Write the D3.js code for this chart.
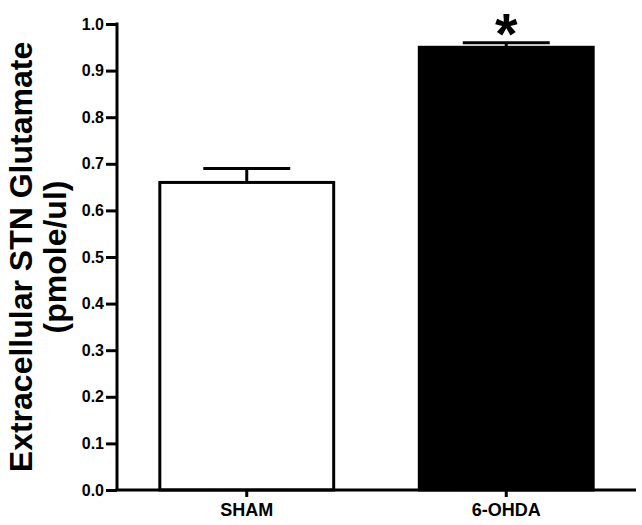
<!DOCTYPE html>
<html>
<head>
<meta charset="utf-8">
<script src="https://cdn.jsdelivr.net/npm/d3@7"></script>
<style>
  html, body { margin: 0; padding: 0; background: #fff; }
  svg { display: block; }
  text { font-family: "Liberation Sans", Arial, sans-serif; font-weight: bold; fill: #000; }
</style>
</head>
<body>
<script>
const categories = ["SHAM", "6-OHDA"];
const means = [0.66, 0.95];
const sems = [0.03, 0.01];
const barFills = ["#ffffff", "#000000"];
const significant = [false, true];
const yTicks = [0, 0.1, 0.2, 0.3, 0.4, 0.5, 0.6, 0.7, 0.8, 0.9, 1.0];
const yTitleLines = ["Extracellular STN Glutamate", "(pmole/ul)"];

(function () {
const W = 642, H = 525;
const pL = 117, pR = 636, pT = 24, pB = 490;

const svg = d3.select("body").append("svg").attr("width", W).attr("height", H);

const x = d3.scaleBand().domain(categories).range([pL, pR])
  .paddingInner(0.33).paddingOuter(0.165);
const y = d3.scaleLinear().domain([0, 1.0]).range([pB, pT]);

const data = categories.map((c, i) => ({ c, m: means[i], e: sems[i], fill: barFills[i], sig: significant[i] }));

// bars
svg.append("g").selectAll("rect").data(data).join("rect")
  .attr("x", d => x(d.c))
  .attr("y", d => y(d.m))
  .attr("width", x.bandwidth())
  .attr("height", d => y(0) - y(d.m))
  .attr("fill", d => d.fill)
  .attr("stroke", "#000")
  .attr("stroke-width", 3);

// error bars (upper only)
const capW = x.bandwidth() / 2;
const eg = svg.append("g").attr("stroke", "#000").attr("stroke-width", 3);
eg.selectAll("line.v").data(data).join("line").attr("class", "v")
  .attr("x1", d => x(d.c) + x.bandwidth() / 2)
  .attr("x2", d => x(d.c) + x.bandwidth() / 2)
  .attr("y1", d => y(d.m))
  .attr("y2", d => y(d.m + d.e));
eg.selectAll("line.h").data(data).join("line").attr("class", "h")
  .attr("x1", d => x(d.c) + x.bandwidth() / 2 - capW / 2)
  .attr("x2", d => x(d.c) + x.bandwidth() / 2 + capW / 2)
  .attr("y1", d => y(d.m + d.e))
  .attr("y2", d => y(d.m + d.e));

// significance asterisk
svg.append("g").selectAll("text").data(data.filter(d => d.sig)).join("text")
  .attr("x", d => x(d.c) + x.bandwidth() / 2)
  .attr("y", d => y(d.m + d.e) + 11)
  .attr("text-anchor", "middle")
  .style("font-size", "58px")
  .text("*");

// y axis
const yAxis = svg.append("g").attr("transform", `translate(${pL},0)`)
  .call(d3.axisLeft(y).tickValues(yTicks).tickFormat(d3.format(".1f")).tickSize(11).tickSizeOuter(0).tickPadding(2));
yAxis.selectAll("text").style("font-size", "16px");

// x axis
const xAxis = svg.append("g").attr("transform", `translate(0,${pB})`)
  .call(d3.axisBottom(x).tickSize(7).tickSizeOuter(0).tickPadding(6));
xAxis.selectAll("text").style("font-size", "18px");

[yAxis, xAxis].forEach(a => {
  a.select(".domain").attr("stroke", "#000").attr("stroke-width", 3);
  a.selectAll(".tick line").attr("stroke", "#000").attr("stroke-width", 3);
});
xAxis.select(".domain").attr("d", `M${pL - 1.5},0H${pR}`);
yAxis.select(".domain").attr("d", `M0,${pT - 1.5}V${pB}`);

// y title
const cy = (pT + pB) / 2;
svg.append("g").selectAll("text").data(yTitleLines).join("text")
  .attr("transform", (d, i) => `translate(${32 + i * 34},${cy}) rotate(-90)`)
  .attr("text-anchor", "middle")
  .style("font-size", "32px")
  .text(d => d);
})();
</script>
</body>
</html>
